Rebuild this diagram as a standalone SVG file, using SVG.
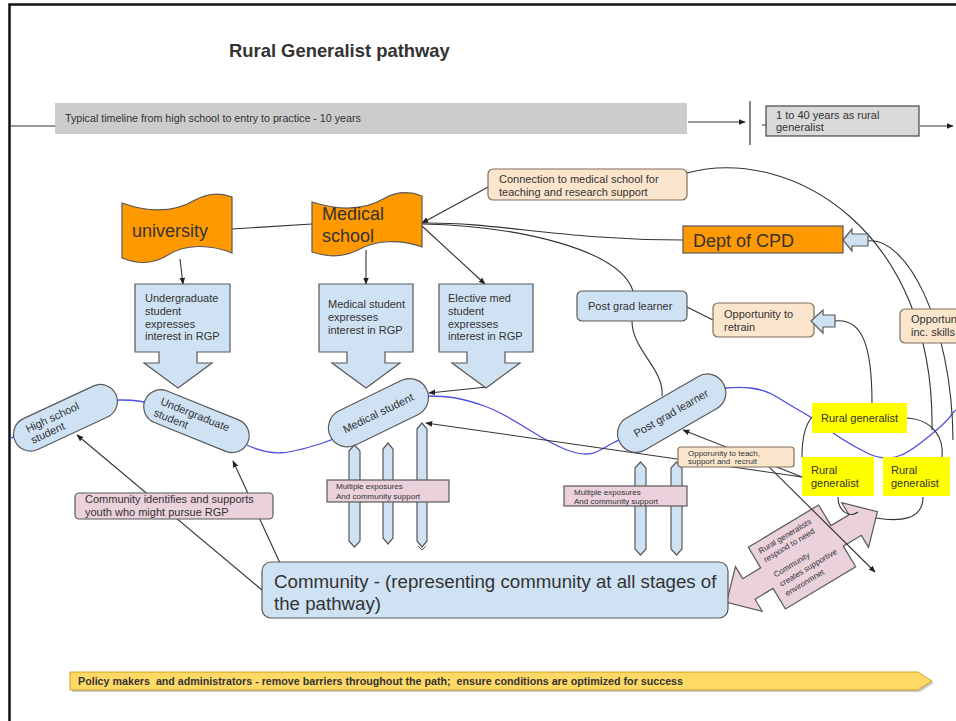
<svg xmlns="http://www.w3.org/2000/svg" width="956" height="721" viewBox="0 0 956 721">
<defs>
<style>
.t{font-family:"Liberation Sans",Arial,sans-serif;fill:#333;white-space:pre}
.s11{font-size:11px}
.s8{font-size:8px}
.s18{font-size:18px}
.ln{fill:none;stroke:#333;stroke-width:1.1}
.lb{fill:#cfe2f3;stroke:#595959;stroke-width:1.2}
.pk{fill:#ead1dc;stroke:#595959;stroke-width:1.2}
.pe{fill:#fce5cd;stroke:#7f6f5f;stroke-width:1.2}
.yl{fill:#ffff00}
.or{fill:#ff9900;stroke:#595959;stroke-width:1.2}
</style>
<marker id="ah" viewBox="0 0 10 10" refX="9" refY="5" markerWidth="7" markerHeight="7" orient="auto" markerUnits="userSpaceOnUse"><path d="M0,1 L10,5 L0,9 z" fill="#222"/></marker>
</defs>
<rect width="956" height="721" fill="#fff"/>
<path d="M9.5,721 V4.5 H956" fill="none" stroke="#111" stroke-width="2.5"/>

<g id="title"><text class="t" x="229" y="57" font-size="18.4" font-weight="bold" fill="#111">Rural Generalist pathway</text></g>

<g id="timeline">
<line x1="11" y1="126" x2="55" y2="126" stroke="#333" stroke-width="1"/>
<rect x="55" y="103" width="632" height="31" fill="#cccccc"/>
<text class="t" x="65" y="122" font-size="10.7">Typical timeline from high school to entry to practice - 10 years</text>
</g>
<g id="timeline2">
<line x1="750" y1="101" x2="750" y2="145" stroke="#333" stroke-width="1.2"/>
<line x1="762" y1="125" x2="766" y2="125" stroke="#333" stroke-width="1"/>
<rect x="766" y="106" width="153" height="30" fill="#d9d9d9" stroke="#444" stroke-width="1.2"/>
<text class="t s11" x="776" y="119">1 to 40 years as rural</text>
<text class="t s11" x="776" y="131">generalist</text>
</g>

<g id="pink-double-arrow" transform="translate(802,557) rotate(-31)">
<path class="pk" d="M-88,0 L-62,-26 L-62,-12 L-41,-12 L-41,-36 L41,-36 L41,-12 L62,-12 L62,-26 L88,0 L62,26 L62,12 L41,12 L41,36 L-41,36 L-41,12 L-62,12 L-62,26 Z"/>
<g class="t s8">
<text x="-34" y="-24">Rural generalists</text>
<text x="-34" y="-14">respond to need</text>
<text x="-33" y="4">Community</text>
<text x="-33" y="15">creates supportive</text>
<text x="-33" y="26">environmnet</text>
</g>
</g>

<g id="connectors">
<line class="ln" x1="688" y1="122" x2="745" y2="122" marker-end="url(#ah)"/>
<line class="ln" x1="920" y1="126" x2="953" y2="126" marker-end="url(#ah)"/>
<path d="M10,438 C30,435 45,425 65,415 S105,400 120,400 S145,401 160,407 S220,432 247,445 S290,453 320,444 S360,420 378,412 S410,396 428,396 S460,397 487,407 S540,440 567,450 S600,449 613,443 S650,422 671,412 S710,389 725,388 S760,386 777,397 S805,413 812,418 S840,440 867,453 S910,452 933,433 S950,414 956,410" fill="none" stroke="#4f4fe0" stroke-width="1.3"/>
<line class="ln" x1="232" y1="229" x2="312" y2="224"/>
<line class="ln" x1="180" y1="259" x2="183" y2="284" marker-end="url(#ah)"/>
<line class="ln" x1="366" y1="250" x2="366" y2="284" marker-end="url(#ah)"/>
<line class="ln" x1="422" y1="226" x2="485" y2="284" marker-end="url(#ah)"/>
<line class="ln" x1="490" y1="186" x2="422" y2="223" marker-end="url(#ah)"/>
<path class="ln" d="M422,223 C500,222 560,240 683,240"/>
<path class="ln" d="M422,224 C520,226 620,250 633,291"/>
<path class="ln" d="M687,173 C790,145 935,230 932,430"/>
<path class="ln" d="M868,241 C905,236 952,320 953,440"/>
<path class="ln" d="M632,321 C632,350 665,370 662,396"/>
<line class="ln" x1="687" y1="307" x2="713" y2="320"/>
<path class="ln" d="M872,403 C872,345 862,318 835,321"/>
<path class="ln" d="M812,417 C805,425 802,440 802,457"/>
<path class="ln" d="M907,418 C935,420 944,440 942,457"/>
<path class="ln" d="M838,497 C838,512 850,518 858,512"/>
<path class="ln" d="M923,497 C923,520 900,522 876,518"/>
<line class="ln" x1="487" y1="387" x2="429" y2="393" marker-end="url(#ah)"/>
<line class="ln" x1="802" y1="477" x2="683" y2="430" marker-end="url(#ah)"/>
<line class="ln" x1="802" y1="477" x2="426" y2="423" marker-end="url(#ah)"/>
<line class="ln" x1="752" y1="450" x2="875" y2="572" marker-end="url(#ah)"/>
<line class="ln" x1="262" y1="590" x2="77" y2="435" marker-end="url(#ah)"/>
<line class="ln" x1="280" y1="563" x2="233" y2="461" marker-end="url(#ah)"/>
</g>

<g id="university">
<path class="or" d="M122,203 C150,213 175,212 195,200 C210,192 222,193 232,197 L232,253 C210,244 185,244 168,255 C150,266 135,263 122,258 Z"/>
<text class="t s18" x="132" y="237" fill="#222">university</text>
</g>
<g id="medical-school">
<path class="or" d="M312,202 C340,211 365,210 385,198 C400,190 412,192 422,196 L422,247 C400,239 375,240 358,250 C340,259 325,256 312,252 Z"/>
<text class="t s18" x="322" y="220" fill="#222">Medical</text>
<text class="t s18" x="322" y="242" fill="#222">school</text>
</g>
<g id="connection-box">
<rect class="pe" x="488" y="169" width="199" height="31" rx="5"/>
<text class="t s11" x="499" y="183">Connection to medical school for</text>
<text class="t s11" x="499" y="196">teaching and research support</text>
</g>
<g id="dept-cpd">
<rect class="or" x="683" y="226" width="160" height="27"/>
<text class="t s18" x="693" y="247" fill="#222">Dept of CPD</text>
<path class="lb" d="M843,240 L852,229 L852,234 L868,234 L868,246 L852,246 L852,251 Z"/>
</g>

<g id="ug-interest">
<path class="lb" d="M135,284 H230 V352 H197 V363 H212 L178,388 L144,363 H159 V352 H135 Z"/>
<text class="t s11" x="145" y="302">Undergraduate</text>
<text class="t s11" x="145" y="315">student</text>
<text class="t s11" x="145" y="328">expresses</text>
<text class="t s11" x="145" y="340">interest in RGP</text>
</g>
<g id="med-interest">
<path class="lb" d="M319,284 H413 V352 H385 V363 H400 L366,388 L332,363 H347 V352 H319 Z"/>
<text class="t s11" x="328" y="308">Medical student</text>
<text class="t s11" x="328" y="321">expresses</text>
<text class="t s11" x="328" y="334">interest in RGP</text>
</g>
<g id="elective-interest">
<path class="lb" d="M439,284 H533 V352 H505 V363 H520 L486,388 L452,363 H467 V352 H439 Z"/>
<text class="t s11" x="448" y="302">Elective med</text>
<text class="t s11" x="448" y="315">student</text>
<text class="t s11" x="448" y="328">expresses</text>
<text class="t s11" x="448" y="340">interest in RGP</text>
</g>

<g id="pg-box">
<rect class="lb" x="577" y="291" width="110" height="30" rx="5"/>
<text class="t s11" x="588" y="310">Post grad learner</text>
</g>
<g id="retrain">
<rect class="pe" x="713" y="303" width="101" height="34" rx="5"/>
<text class="t s11" x="724" y="318">Opportunity to</text>
<text class="t s11" x="724" y="331">retrain</text>
<path class="lb" d="M811,321 L823,310 L823,315 L835,315 L835,327 L823,327 L823,333 Z"/>
</g>
<g id="inc-skills">
<rect class="pe" x="900" y="309" width="70" height="34" rx="5"/>
<text class="t s11" x="911" y="323">Opportun</text>
<text class="t s11" x="911" y="336">inc. skills</text>
</g>

<g id="hs-student" transform="translate(65,418) rotate(-25)">
<rect class="lb" x="-55" y="-17" width="111" height="34" rx="17"/>
<text class="t s11" x="-40" y="-2">High school</text>
<text class="t s11" x="-40" y="10">student</text>
</g>
<g id="ug-student" transform="translate(196,421) rotate(22)">
<rect class="lb" x="-55" y="-17" width="111" height="34" rx="17"/>
<text class="t s11" x="-40" y="-2">Undergraduate</text>
<text class="t s11" x="-42" y="11">student</text>
</g>
<g id="med-student" transform="translate(378,413) rotate(-26)">
<rect class="lb" x="-53" y="-19" width="107" height="38" rx="19"/>
<text class="t s11" x="0" y="4" text-anchor="middle">Medical student</text>
</g>
<g id="pg-student" transform="translate(671,413) rotate(-30)">
<rect class="lb" x="-59" y="-18" width="119" height="37" rx="18"/>
<text class="t s11" x="0" y="4" text-anchor="middle">Post grad learner</text>
</g>

<g id="med-exposures">
<polygon class="lb" points="349,451 354.5,445 360,451 360,541 354.5,547 349,541"/>
<polygon class="lb" points="383,449 388,443 393,449 393,538 388,544 383,538"/>
<polygon class="lb" points="417,429 422,423 427,429 427,541 422,547 417,541"/>
<path d="M418,546 L422,550 L426,546" fill="none" stroke="#595959" stroke-width="1"/>
<rect class="pk" x="327" y="480" width="122" height="22"/>
<text class="t s8" x="336" y="489">Multiple exposures</text>
<text class="t s8" x="336" y="499">And community support</text>
</g>
<g id="pg-exposures">
<polygon class="lb" points="635,468 640.5,462 646,468 646,549 640.5,555 635,549"/>
<polygon class="lb" points="671,468 676.5,462 682,468 682,549 676.5,555 671,549"/>
<rect class="pk" x="564" y="486" width="123" height="20"/>
<text class="t s8" x="574" y="495">Multiple exposures</text>
<text class="t s8" x="574" y="504">And community support</text>
</g>
<g id="teach-box">
<rect class="pe" x="678" y="447" width="116" height="20" rx="3"/>
<text class="t s8" x="688" y="456">Opporunity to teach,</text>
<text class="t s8" x="688" y="464">support and  recruit</text>
</g>

<g id="rg1">
<rect class="yl" x="812" y="403" width="95" height="30"/>
<text class="t s11" x="821" y="422">Rural generalist</text>
</g>
<g id="rg2">
<rect class="yl" x="802" y="457" width="72" height="39"/>
<text class="t s11" x="811" y="474">Rural</text>
<text class="t s11" x="811" y="487">generalist</text>
</g>
<g id="rg3">
<rect class="yl" x="883" y="457" width="67" height="39"/>
<text class="t s11" x="891" y="474">Rural</text>
<text class="t s11" x="891" y="487">generalist</text>
</g>

<g id="community-identifies">
<rect class="pk" x="75" y="493" width="198" height="26" rx="4"/>
<text class="t s11" x="85" y="503">Community identifies and supports</text>
<text class="t s11" x="85" y="516">youth who might pursue RGP</text>
</g>
<g id="community">
<rect class="lb" x="262" y="562" width="466" height="56" rx="9"/>
<text class="t" x="274" y="588" font-size="18.7">Community - (representing community at all stages of</text>
<text class="t" x="274" y="610" font-size="18.7">the pathway)</text>
</g>

<g id="policy">
<polygon points="72,674 920,674 934,683 920,692 72,692" fill="#999" opacity="0.5"/>
<polygon points="70,672 918,672 932,681 918,690 70,690" fill="#ffd966" stroke="#bf9000" stroke-width="0.8"/>
<text class="t" x="78" y="685" font-size="10" font-weight="bold" fill="#222" textLength="605" lengthAdjust="spacingAndGlyphs">Policy makers  and administrators - remove barriers throughout the path;  ensure conditions are optimized for success</text>
</g>
</svg>
